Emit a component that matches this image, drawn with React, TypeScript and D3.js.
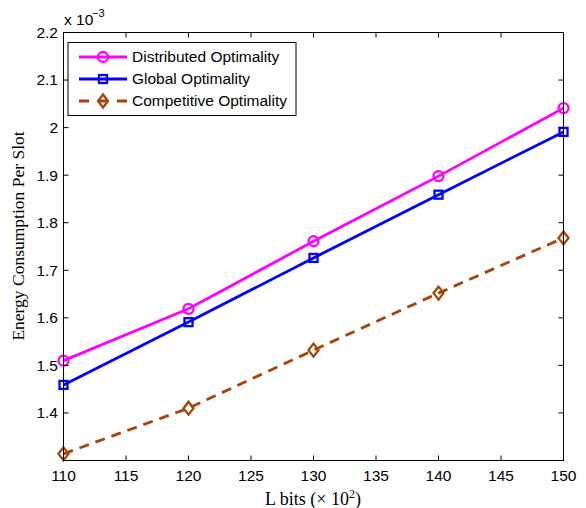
import React from "react";
import * as d3 from "d3";

const xValues = [110, 120, 130, 140, 150];
const distributed = [1.51, 1.619, 1.761, 1.898, 2.041];
const globalOpt = [1.459, 1.591, 1.726, 1.859, 1.991];
const competitive = [1.314, 1.41, 1.532, 1.652, 1.768];
const xTicks = [110, 115, 120, 125, 130, 135, 140, 145, 150];
const yTicks = [1.4, 1.5, 1.6, 1.7, 1.8, 1.9, 2, 2.1, 2.2];
const seriesNames = ["Distributed Optimality", "Global Optimality", "Competitive Optimality"];

const W = 586, H = 508;
const L = 63.5, R = 563.5, T = 32.5, B = 460.5;
const FONT = "'Liberation Sans', Arial, Helvetica, sans-serif";
const SERIF = "'Liberation Serif', 'Times New Roman', serif";

type Kind = "circle" | "square" | "diamond";

function Marker({ x, y, kind, color }: { x: number; y: number; kind: Kind; color: string }) {
  if (kind === "circle") return <circle cx={x} cy={y} r={5} fill="none" stroke={color} strokeWidth={2.3} />;
  if (kind === "square") return <rect x={x - 4} y={y - 4} width={8} height={8} fill="none" stroke={color} strokeWidth={2.3} />;
  return <path d={`M${x},${y - 6.5}L${x + 5},${y}L${x},${y + 6.5}L${x - 5},${y}Z`} fill="none" stroke={color} strokeWidth={2.3} />;
}

export default function App() {
  const x = d3.scaleLinear().domain([110, 150]).range([L, R]);
  const y = d3.scaleLinear().domain([1.3, 2.2]).range([B, T]);
  const series = [
    { name: seriesNames[0], values: distributed, color: "#ff00ff", kind: "circle" as Kind, dash: undefined },
    { name: seriesNames[1], values: globalOpt, color: "#0000ff", kind: "square" as Kind, dash: undefined },
    { name: seriesNames[2], values: competitive, color: "#a4450c", kind: "diamond" as Kind, dash: "10,7" },
  ];
  const line = d3.line<number>().x((_, i) => x(xValues[i])).y((d) => y(d));
  const tl = 5;
  return (
    <svg width={W} height={H} style={{ position: "absolute", left: 0, top: 0, background: "#fff" }}>
      <rect x={0} y={0} width={W} height={H} fill="#fff" />
      {series.map((s) => (
        <g key={s.name}>
          <path d={line(s.values) || ""} fill="none" stroke={s.color} strokeWidth={2.8} strokeDasharray={s.dash} />
          {s.values.map((v, i) => (
            <Marker key={i} x={x(xValues[i])} y={y(v)} kind={s.kind} color={s.color} />
          ))}
        </g>
      ))}
      <rect x={L} y={T} width={R - L} height={B - T} fill="none" stroke="#000" strokeWidth={1} />
      {xTicks.map((t) => (
        <g key={"x" + t}>
          <line x1={x(t)} x2={x(t)} y1={B} y2={B - tl} stroke="#000" />
          <line x1={x(t)} x2={x(t)} y1={T} y2={T + tl} stroke="#000" />
          <text x={x(t)} y={481} textAnchor="middle" fontFamily={FONT} fontSize={15.5}>{t}</text>
        </g>
      ))}
      {yTicks.map((t) => (
        <g key={"y" + t}>
          <line x1={L} x2={L + tl} y1={y(t)} y2={y(t)} stroke="#000" />
          <line x1={R} x2={R - tl} y1={y(t)} y2={y(t)} stroke="#000" />
          <text x={58} y={y(t)} dy="0.35em" textAnchor="end" fontFamily={FONT} fontSize={15.5}>{d3.format("~g")(t)}</text>
        </g>
      ))}
      <text x={64} y={25} fontFamily={FONT} fontSize={15.5}>x 10</text>
      <text x={92} y={17} fontFamily={FONT} fontSize={11}>−3</text>
      <text transform={`translate(24,236) rotate(-90)`} textAnchor="middle" fontFamily={SERIF} fontSize={17.5}>Energy Consumption Per Slot</text>
      <text x={313} y={505} textAnchor="middle" fontFamily={SERIF} fontSize={18}>
        L bits (× 10<tspan dy={-7} fontSize={12}>2</tspan><tspan dy={7}>)</tspan>
      </text>
      <g>
        <rect x={68} y={42.5} width={228} height={73} fill="#fff" stroke="#000" strokeWidth={1} />
        {series.map((s, i) => {
          const ly = 57 + i * 22;
          return (
            <g key={"lg" + i}>
              <line x1={79} x2={127} y1={ly} y2={ly} stroke={s.color} strokeWidth={2.8} strokeDasharray={s.dash ? "10,9" : undefined} />
              <Marker x={103} y={ly} kind={s.kind} color={s.color} />
              <text x={132} y={ly} dy="0.35em" fontFamily={FONT} fontSize={15.5}>{s.name}</text>
            </g>
          );
        })}
      </g>
    </svg>
  );
}
